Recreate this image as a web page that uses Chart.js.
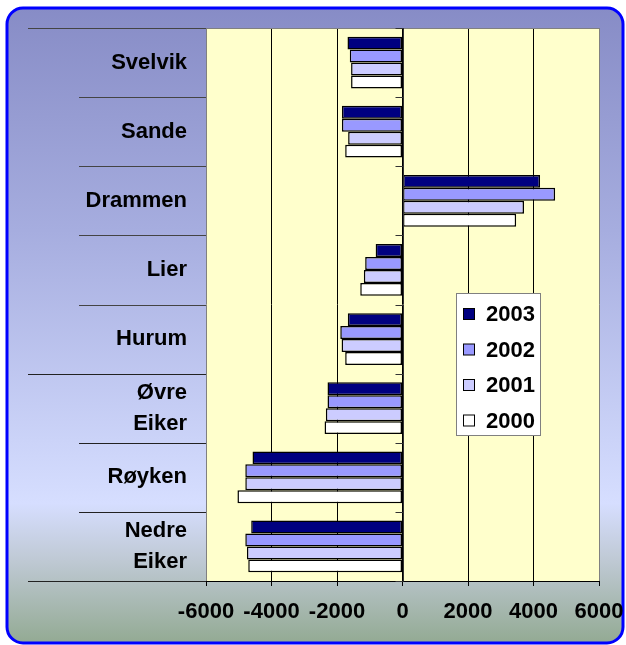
<!DOCTYPE html>
<html>
<head>
<meta charset="utf-8">
<style>
  html, body { margin: 0; padding: 0; background: #fff; }
  .wrap { width: 626px; height: 645px; }
</style>
<script src="https://cdn.jsdelivr.net/npm/chart.js@4"></script>
</head>
<body>
<div class="wrap"><canvas class="chart" width="626" height="645"></canvas></div>
<script>
// data
const categories = ["Svelvik", "Sande", "Drammen", "Lier", "Hurum", ["Øvre", "Eiker"], "Røyken", ["Nedre", "Eiker"]];
const years = ["2003", "2002", "2001", "2000"];
const values2003 = [-1680, -1850, 4200, -820, -1670, -2290, -4580, -4620];
const values2002 = [-1610, -1850, 4660, -1140, -1900, -2290, -4800, -4800];
const values2001 = [-1570, -1660, 3710, -1180, -1860, -2340, -4800, -4750];
const values2000 = [-1570, -1750, 3470, -1290, -1750, -2380, -5040, -4710];
const xMin = -6000;
const xMax = 6000;
const xStep = 2000;

const colors = ["#000080", "#9999ff", "#ccccff", "#ffffff"];
const seriesValues = [values2003, values2002, values2001, values2000];

Chart.defaults.font.family = "'Liberation Sans', Arial, sans-serif";
Chart.defaults.color = "#000";

// frame + yellow plot background
const framePlugin = {
  id: "frame",
  beforeDraw: (chart) => {
    const ctx = chart.ctx;
    const area = chart.chartArea;
    ctx.save();
    const x = 7, y = 8, w = 616, h = 635, r = 16;
    const grad = ctx.createLinearGradient(0, y, 0, y + h);
    grad.addColorStop(0, "#878cc6");
    grad.addColorStop(0.35, "#a6addf");
    grad.addColorStop(0.68, "#cbd3f8");
    grad.addColorStop(0.78, "#d6deff");
    grad.addColorStop(0.87, "#bfc9d4");
    grad.addColorStop(1, "#93aa93");
    ctx.beginPath();
    ctx.roundRect(x, y, w, h, r);
    ctx.fillStyle = grad;
    ctx.fill();
    ctx.lineWidth = 3;
    ctx.strokeStyle = "#0000ff";
    ctx.stroke();
    ctx.fillStyle = "#ffffcc";
    ctx.fillRect(area.left, area.top, area.right - area.left, area.bottom - area.top);
    ctx.restore();
  },
  afterDatasetsDraw: (chart) => {
    const ctx = chart.ctx;
    const area = chart.chartArea;
    const xs = chart.scales.x;
    const ys = chart.scales.y;
    ctx.save();
    // grey top border
    ctx.strokeStyle = "#808080";
    ctx.lineWidth = 1;
    ctx.beginPath();
    ctx.moveTo(area.left, area.top + 0.5);
    ctx.lineTo(area.right, area.top + 0.5);
    ctx.stroke();
    // category separators in label area
    const zx = Math.round(xs.getPixelForValue(0)) + 0.5;
    for (let i = 0; i <= categories.length; i++) {
      const py = Math.round(ys.getPixelForValue(i - 0.5)) + 0.5;
      const long = i === 0 || i === 5 || i === categories.length;
      ctx.strokeStyle = i < 5 ? "#444" : "#222";
      ctx.beginPath();
      ctx.moveTo(long ? 28 : 79, py);
      ctx.lineTo(area.left, py);
      ctx.stroke();
      // small ticks on the zero axis
      ctx.strokeStyle = "#333";
      ctx.beginPath();
      ctx.moveTo(zx - 8, py);
      ctx.lineTo(zx, py);
      ctx.stroke();
    }
    // zero axis
    ctx.beginPath();
    ctx.moveTo(zx, area.top);
    ctx.lineTo(zx, area.bottom);
    ctx.stroke();
    ctx.restore();
  },
  afterDraw: (chart) => {
    // legend box
    const ctx = chart.ctx;
    ctx.save();
    const bx = 456, by = 293, bw = 84, bh = 142;
    ctx.fillStyle = "#fff";
    ctx.fillRect(bx, by, bw, bh);
    ctx.strokeStyle = "#808080";
    ctx.lineWidth = 1;
    ctx.strokeRect(bx + 0.5, by + 0.5, bw, bh);
    ctx.font = "bold 22px 'Liberation Sans', Arial, sans-serif";
    ctx.textBaseline = "middle";
    years.forEach((yr, idx) => {
      const cy = by + 21 + idx * 35.5;
      ctx.fillStyle = colors[idx];
      ctx.fillRect(463.5, cy - 5.5, 11, 11);
      ctx.strokeStyle = "#000";
      ctx.strokeRect(463.5, cy - 5.5, 11, 11);
      ctx.fillStyle = "#000";
      ctx.fillText(yr, 486, cy + 1);
    });
    ctx.restore();
  },
};

const ctx = document.querySelector(".chart");
const myChart = new Chart(ctx, {
  type: "bar",
  data: {
    labels: categories,
    datasets: years.map((yr, idx) => ({
      label: yr,
      data: seriesValues[idx],
      backgroundColor: colors[idx],
      borderColor: "#000",
      borderWidth: 1.5,
      borderSkipped: false,
    })),
  },
  options: {
    indexAxis: "y",
    responsive: false,
    animation: false,
    categoryPercentage: 0.75,
    barPercentage: 1,
    layout: { padding: { top: 28, right: 27, left: 0, bottom: 0 } },
    plugins: {
      legend: { display: false },
      tooltip: { enabled: false },
    },
    scales: {
      x: {
        min: xMin,
        max: xMax,
        ticks: {
          stepSize: xStep,
          padding: 13,
          maxRotation: 0,
          minRotation: 0,
          autoSkip: false,
          font: { size: 22, weight: "bold" },
          color: "#000",
          callback: (value) => String(value),
        },
        grid: {
          color: (c) => (c.index === 0 || c.index === 6 ? "#808080" : "#000"),
          tickColor: "#000",
          tickLength: 5,
        },
        border: { display: true, color: "#000" },
        afterFit: (scale) => {
          scale.height = 64;
          scale.paddingLeft = 0;
          scale.paddingRight = 0;
        },
      },
      y: {
        ticks: {
          padding: 19,
          font: { size: 22, weight: "bold", lineHeight: 1.4 },
          color: "#000",
        },
        grid: { display: false, drawTicks: false },
        border: { display: false },
        afterFit: (scale) => {
          scale.width = 206;
          scale.paddingTop = 0;
          scale.paddingBottom = 0;
        },
      },
    },
  },
  plugins: [framePlugin],
});
</script>
</body>
</html>
